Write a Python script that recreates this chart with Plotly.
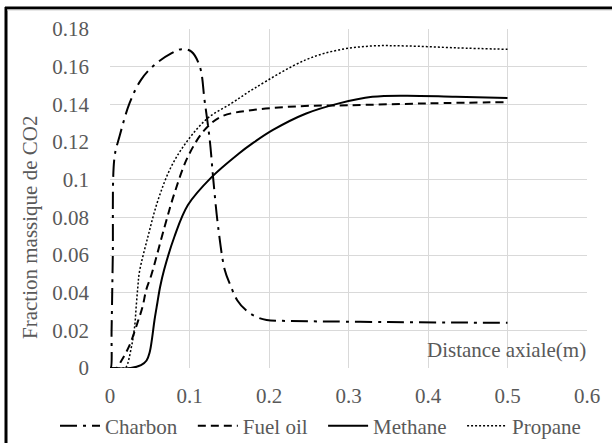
import plotly.graph_objects as go

# ---- data ----
charbon_x = [0.0, 0.001, 0.002, 0.0035, 0.0057, 0.012, 0.0246, 0.039, 0.056, 0.077, 0.090, 0.1024, 0.113, 0.119, 0.1255, 0.130, 0.136, 0.1444, 0.151, 0.160, 0.172, 0.185, 0.197, 0.22, 0.25, 0.35, 0.45, 0.5]
charbon_y = [0.0, 0.0, 0.02, 0.059, 0.112, 0.123, 0.1406, 0.153, 0.161, 0.167, 0.1693, 0.168, 0.160, 0.142, 0.121, 0.0998, 0.075, 0.052, 0.0444, 0.036, 0.0303, 0.027, 0.0255, 0.025, 0.0248, 0.0244, 0.0241, 0.0240]

fuel_x = [0.0, 0.008, 0.0145, 0.0245, 0.035, 0.041, 0.0455, 0.052, 0.0687, 0.081, 0.098, 0.119, 0.140, 0.180, 0.239, 0.3, 0.4, 0.5]
fuel_y = [0.0, 0.0, 0.004, 0.012, 0.0246, 0.0326, 0.0414, 0.0494, 0.075, 0.0927, 0.1122, 0.1264, 0.1335, 0.137, 0.139, 0.1395, 0.1405, 0.1412]

methane_x = [0.0, 0.026, 0.039, 0.046, 0.050, 0.053, 0.056, 0.0595, 0.063, 0.068, 0.081, 0.098, 0.1275, 0.161, 0.180, 0.205, 0.246, 0.288, 0.330, 0.372, 0.435, 0.5]
methane_y = [0.0, 0.0, 0.0015, 0.004, 0.0085, 0.0160, 0.0255, 0.0344, 0.043, 0.052, 0.0697, 0.0865, 0.1012, 0.1135, 0.1195, 0.1264, 0.135, 0.1405, 0.144, 0.1446, 0.144, 0.1434]

propane_x = [0.0, 0.018, 0.0205, 0.027, 0.031, 0.033, 0.035, 0.037, 0.0477, 0.0603, 0.077, 0.098, 0.123, 0.153, 0.182, 0.246, 0.288, 0.330, 0.372, 0.435, 0.5]
propane_y = [0.0, 0.0, 0.0006, 0.0113, 0.022, 0.033, 0.043, 0.051, 0.0697, 0.089, 0.1069, 0.121, 0.1327, 0.1406, 0.1486, 0.1636, 0.1689, 0.171, 0.171, 0.170, 0.1692]

x_ticks = [0, 0.1, 0.2, 0.3, 0.4, 0.5, 0.6]
x_ticktext = ["0", "0.1", "0.2", "0.3", "0.4", "0.5", "0.6"]
y_ticks = [0, 0.02, 0.04, 0.06, 0.08, 0.1, 0.12, 0.14, 0.16, 0.18]
y_ticktext = ["0", "0.02", "0.04", "0.06", "0.08", "0.1", "0.12", "0.14", "0.16", "0.18"]

FONT = "Liberation Serif"
GREY = "#595959"
FS = 21
SM = 1.0
PAD = "\u00a0\u00a0"

fig = go.Figure()
fig.add_trace(go.Scatter(x=charbon_x, y=charbon_y, name="Charbon" + PAD, mode="lines",
                         line=dict(color="black", width=2, dash="17px,6px,3px,6px", shape="spline", smoothing=SM)))
fig.add_trace(go.Scatter(x=fuel_x, y=fuel_y, name="Fuel oil" + PAD, mode="lines",
                         line=dict(color="black", width=2, dash="8px,5px", shape="spline", smoothing=SM)))
fig.add_trace(go.Scatter(x=methane_x, y=methane_y, name="Methane" + PAD, mode="lines",
                         line=dict(color="black", width=2, shape="spline", smoothing=SM)))
fig.add_trace(go.Scatter(x=propane_x, y=propane_y, name="Propane", mode="lines",
                         line=dict(color="black", width=1.5, dash="2px,2px", shape="spline", smoothing=SM)))

L, R, T, B = 110, 25, 29, 75
W, H = 612, 443
pw, ph = W - L - R, H - T - B

def px(xp):
    return (xp - L) / pw

def py(yp):
    return (H - B - yp) / ph

fig.update_layout(
    width=W, height=H,
    margin=dict(l=L, r=R, t=T, b=B, autoexpand=False),
    paper_bgcolor="white", plot_bgcolor="white",
    font=dict(family=FONT, size=FS, color=GREY),
    showlegend=True,
    legend=dict(orientation="h", x=px(55), y=py(426), xanchor="left", yanchor="middle",
                font=dict(family=FONT, size=FS, color=GREY), itemwidth=40,
                bgcolor="rgba(0,0,0,0)"),
    xaxis=dict(range=[0, 0.6], tickvals=x_ticks, ticktext=x_ticktext, showgrid=True,
               gridcolor="#d9d9d9", gridwidth=1, zeroline=False, showline=False,
               ticks="", ticklabelstandoff=13, tickfont=dict(family=FONT, size=FS, color=GREY), fixedrange=True),
    yaxis=dict(range=[0, 0.18], tickvals=y_ticks, ticktext=y_ticktext, showgrid=True,
               gridcolor="#d9d9d9", gridwidth=1, zeroline=False, showline=False,
               ticks="", ticklabelstandoff=20, tickfont=dict(family=FONT, size=FS, color=GREY), fixedrange=True),
    annotations=[
        dict(text="Distance axiale(m)", xref="paper", yref="paper", x=px(588), y=py(350),
             xanchor="right", yanchor="middle", showarrow=False,
             font=dict(family=FONT, size=FS, color=GREY)),
        dict(text="Fraction massique de CO2", xref="paper", yref="paper", x=px(30), y=py(228),
             xanchor="center", yanchor="middle", textangle=-90, showarrow=False,
             font=dict(family=FONT, size=FS, color=GREY)),
    ],
    shapes=[
        dict(type="line", xref="paper", yref="paper", x0=px(5), x1=px(612), y0=py(8), y1=py(8),
             line=dict(color="black", width=3)),
        dict(type="line", xref="paper", yref="paper", x0=px(6), x1=px(6), y0=py(7), y1=py(443),
             line=dict(color="black", width=3)),
        dict(type="line", xref="paper", yref="paper", x0=px(7), x1=px(612), y0=py(10), y1=py(10),
             line=dict(color="#d0d0d0", width=1)),
    ],
)

fig.write_html("out.html")
